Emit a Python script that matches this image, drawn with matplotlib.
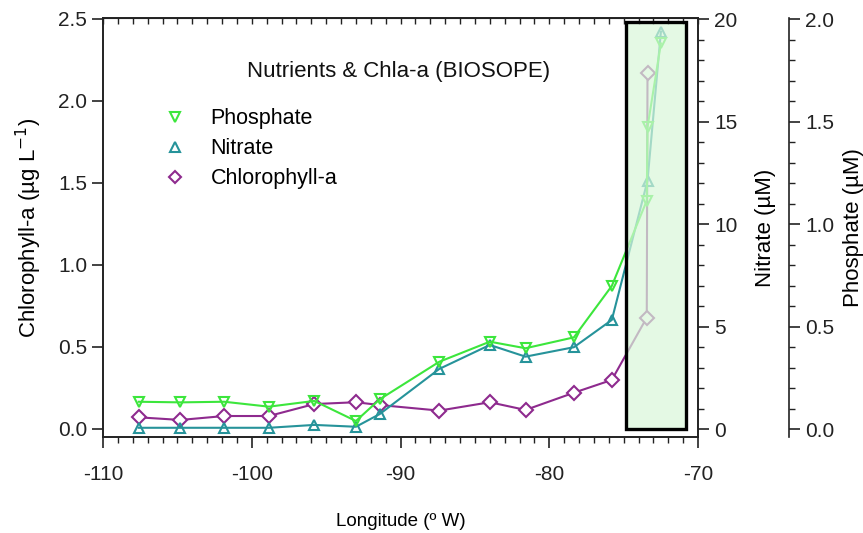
import numpy as np
import matplotlib
matplotlib.use("Agg")
import matplotlib.pyplot as plt
from matplotlib.lines import Line2D
from matplotlib.patches import Rectangle

plt.rcParams['font.family'] = ['Liberation Sans', 'DejaVu Sans']
plt.rcParams['axes.unicode_minus'] = False

# station longitudes (deg, negative = W) and values
lon_chl = [-107.6, -104.8, -101.85, -98.85, -95.8, -93.0, -91.4, -87.4, -84.0, -81.6, -78.35, -75.8, -73.45, -73.4]
chl = [0.071, 0.055, 0.079, 0.079, 0.152, 0.163, 0.146, 0.112, 0.163, 0.116, 0.221, 0.299, 0.679, 2.173]

lon_no3 = [-107.6, -104.8, -101.85, -98.85, -95.8, -93.0, -91.4, -87.4, -84.0, -81.6, -78.35, -75.8, -73.4, -72.5]
no3 = [0.06, 0.06, 0.06, 0.06, 0.20, 0.11, 0.73, 2.93, 4.10, 3.53, 3.99, 5.32, 12.11, 19.38]

lon_po4 = [-107.6, -104.8, -101.85, -98.85, -95.8, -93.0, -91.4, -87.4, -84.0, -81.6, -78.35, -75.8, -73.45, -73.4, -72.5]
po4 = [0.133, 0.130, 0.133, 0.109, 0.137, 0.039, 0.145, 0.328, 0.426, 0.394, 0.447, 0.698, 1.114, 1.472, 1.881]

c_po4 = '#3ce63c'
c_no3 = '#26939a'
c_chl = '#8e2a8e'
axc = '#222222'

fig = plt.figure(figsize=(8.63, 5.33), dpi=100)
ax = fig.add_axes([0.1194, 0.1801, 0.6895, 0.7861])
ax2 = ax.twinx()
ax3 = ax.twinx()

ax.plot(lon_chl, chl, color=c_chl, lw=1.5, marker='D', ms=7, mfc='white', mec=c_chl, mew=1.5, zorder=3)
ax2.plot(lon_no3, no3, color=c_no3, lw=1.5, marker='^', ms=7, mfc='none', mec=c_no3, mew=1.5)
ax3.plot(lon_po4, po4, color=c_po4, lw=1.5, marker='v', ms=7, mfc='none', mec=c_po4, mew=1.5)

ax.set_xlim(-110, -70)
ax.set_ylim(-0.049, 2.506)
ax2.set_ylim(-0.39, 20.05)
ax3.set_ylim(-0.039, 2.005)

fs = 15
lfs = 16
ax.set_xticks(np.arange(-110, -69, 10))
ax.set_xticks(np.arange(-110, -69, 1), minor=True)
ax.set_yticks(np.arange(0, 2.51, 0.5))
ax.set_yticklabels(['%.1f' % v for v in np.arange(0, 2.51, 0.5)])
ax.tick_params(axis='both', which='major', direction='out', length=8, width=1.2, labelsize=fs, colors=axc)
ax.tick_params(axis='x', which='minor', direction='out', length=4, width=1, colors=axc)
ax.tick_params(axis='x', pad=12)

top = ax.secondary_xaxis('top')
top.set_xticks(np.arange(-110, -69, 1))
top.tick_params(direction='in', length=4, width=1, labeltop=False, colors=axc)
top.spines['top'].set_color(axc)

ax2.set_yticks(np.arange(0, 21, 5))
ax2.set_yticks(np.arange(0, 21, 1), minor=True)
ax2.tick_params(which='major', direction='out', length=8, width=1.2, labelsize=fs, colors=axc)
ax2.tick_params(which='minor', direction='out', length=4, width=1, colors=axc)

ax3.spines['right'].set_position(('axes', 1.153))
ax3.set_yticks(np.arange(0, 2.01, 0.5))
ax3.set_yticklabels(['%.1f' % v for v in np.arange(0, 2.01, 0.5)])
ax3.set_yticks(np.arange(0, 2.01, 0.1), minor=True)
ax3.tick_params(which='major', direction='out', length=8, width=1.2, labelsize=fs, colors=axc)
ax3.tick_params(which='minor', direction='out', length=4, width=1, colors=axc)

for a in (ax, ax2, ax3):
    for s in a.spines.values():
        s.set_color(axc)
        s.set_linewidth(1.2)
ax3.spines['left'].set_visible(False)
ax3.spines['top'].set_visible(False)
ax3.spines['bottom'].set_visible(False)

ax.set_ylabel('Chlorophyll-a (\u00b5g L$^{-1}$)', fontsize=lfs, labelpad=10)
ax.set_xlabel('Longitude (\u00ba W)', fontsize=13.5, labelpad=21)
ax2.set_ylabel('Nitrate (\u00b5M)', fontsize=lfs, labelpad=13)
ax3.set_ylabel('Phosphate (\u00b5M)', fontsize=lfs, labelpad=6)

# shaded box over the coastal stations, drawn on top
ax3.add_patch(Rectangle((-74.85, 0), 4.05, 2.48, transform=ax.transData,
                        facecolor=(0.85, 0.97, 0.85), alpha=0.7, edgecolor='none', zorder=5))
ax3.add_patch(Rectangle((-74.85, 0), 4.05, 2.48, transform=ax.transData,
                        facecolor='none', edgecolor='black', lw=2.4, zorder=6))

ax.text(-100.3, 2.18, 'Nutrients & Chla-a (BIOSOPE)', fontsize=lfs, color='#111111', ha='left', va='center')

handles = [Line2D([], [], ls='none', marker='v', ms=7, mfc='none', mec=c_po4, mew=1.5),
           Line2D([], [], ls='none', marker='^', ms=7, mfc='none', mec=c_no3, mew=1.5),
           Line2D([], [], ls='none', marker='D', ms=6, mfc='none', mec=c_chl, mew=1.5)]
leg = ax3.legend(handles, ['Phosphate', 'Nitrate', 'Chlorophyll-a'], loc='upper left',
                 bbox_to_anchor=(145 / 863, 1 - 89 / 533), bbox_transform=fig.transFigure,
                 frameon=False, fontsize=15.5, handlelength=1.0, handletextpad=1.15, labelspacing=0.42)
leg.set_zorder(10)

fig.savefig('out.png', dpi=100, facecolor='white')
